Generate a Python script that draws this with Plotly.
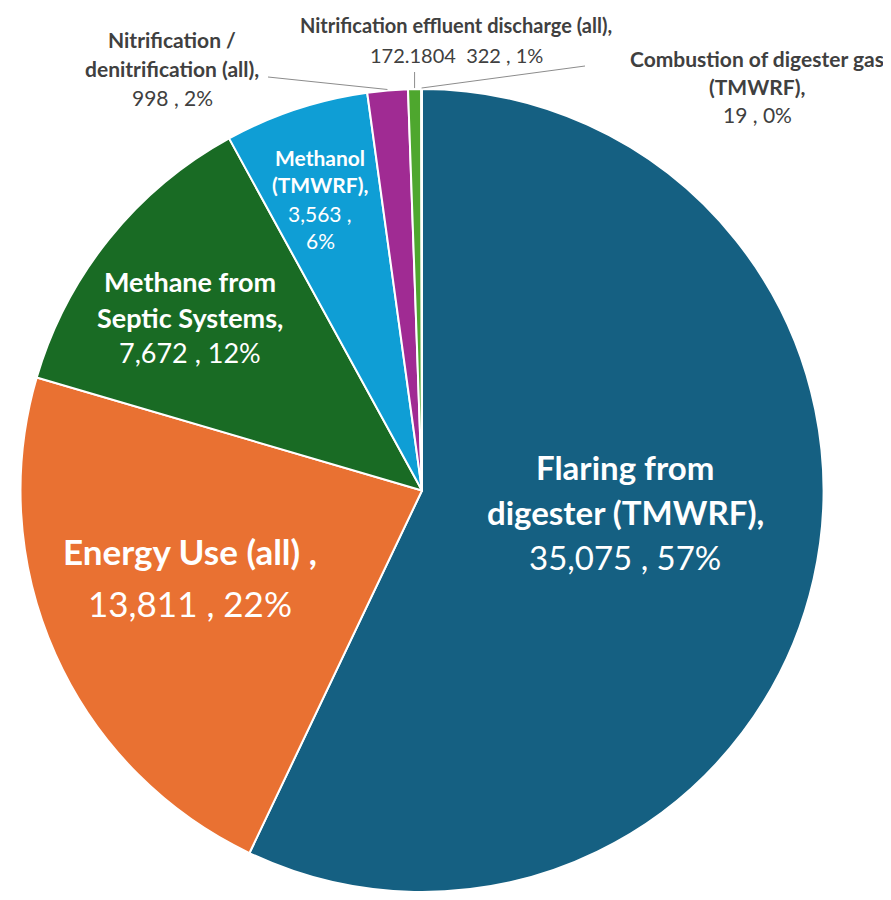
import math
import plotly.graph_objects as go

# Emission sources (clockwise from 12 o'clock)
sources = [
    "Flaring from digester (TMWRF)",
    "Energy Use (all)",
    "Methane from Septic Systems",
    "Methanol (TMWRF)",
    "Nitrification / denitrification (all)",
    "Nitrification effluent discharge (all)",
    "Combustion of digester gas (TMWRF)",
]
emissions = [35075, 13811, 7672, 3563, 998, 322, 19]
value_text = ["35,075", "13,811", "7,672", "3,563", "998", "172.1804  322", "19"]
colors = ["#156082", "#E97132", "#196B24", "#0F9ED5", "#A02B93", "#4EA72E", "#0D3A4E"]

# how each label is broken into lines in the chart
label_lines = [
    ["<b>Flaring from</b>", "<b>digester (TMWRF),</b>", "{v} , {p}"],
    ["<b>Energy Use (all) ,</b>", "{v} , {p}"],
    ["<b>Methane from</b>", "<b>Septic Systems,</b>", "{v} , {p}"],
    ["<b>Methanol</b>", "<b>(TMWRF),</b>", "{v} ,", "{p}"],
    ["<b>Nitrification /</b>", "<b>denitrification (all),</b>", "{v} , {p}"],
    ["<b>Nitrification effluent discharge (all),</b>", "{v} , {p}"],
    ["<b>Combustion of digester gas</b>", "<b>(TMWRF),</b>", "{v} , {p}"],
]

# page body has an 8px margin, so the figure sits 8px in from the window edge
OFF = 8
W, H = 891 - 2 * OFF, 900 - 2 * OFF
CX, CY, R = 422, 491, 402
FONT = "Lato"

# label placement in window pixels: centre x, first line y, line step, font size, colour
label_style = [
    (625, 467, 45, 33, "white"),
    (190, 551, 52, 35, "white"),
    (190, 281, 36, 27, "white"),
    (320, 157, 28, 21, "white"),
    (172, 40, 29, 21, "#404040"),
    (456, 25, 30, 20, "#404040"),
    (757, 58, 28, 21, "#404040"),
]


def px(x):
    return (x - OFF) / W


def py(y):
    return 1 - (y - OFF) / H


total = sum(emissions)

fig = go.Figure(go.Pie(
    labels=sources,
    values=emissions,
    sort=False,
    direction="clockwise",
    rotation=0,
    marker=dict(colors=colors, line=dict(color="white", width=2)),
    textinfo="none",
    hoverinfo="label+value+percent",
    domain=dict(x=[px(CX - R), px(CX + R)], y=[max(0, py(CY + R)), py(CY - R)]),
))

annotations = []
for lines, v, val, (x, y, step, size, col) in zip(label_lines, emissions, value_text, label_style):
    pct = f"{round(100 * v / total)}%"
    for i, line in enumerate(lines):
        annotations.append(dict(
            x=px(x), y=py(y + i * step), xref="paper", yref="paper",
            text=line.format(v=val, p=pct), showarrow=False,
            xanchor="center", yanchor="middle",
            font=dict(family=FONT, size=size, color=col),
        ))

# leader lines for the small outside labels, ending at the slice mid-angle
cum = 0
mids = []
for v in emissions:
    mids.append((cum + v / 2) / total * 2 * math.pi)
    cum += v

leaders = {4: (268, 77), 5: (412, 72), 6: (585, 66)}
shapes = []
for idx, (sx, sy) in leaders.items():
    a = mids[idx]
    ex = CX + (R + 1) * math.sin(a)
    ey = CY - (R + 1) * math.cos(a)
    if idx == 5:
        sx = ex
    shapes.append(dict(
        type="line", xref="paper", yref="paper",
        x0=px(sx), y0=py(sy), x1=px(ex), y1=py(ey),
        line=dict(color="#8c8c8c", width=1),
    ))

fig.update_layout(
    width=W, height=H,
    margin=dict(l=0, r=0, t=0, b=0),
    paper_bgcolor="white",
    showlegend=False,
    annotations=annotations,
    shapes=shapes,
)

fig.write_html("out.html")
